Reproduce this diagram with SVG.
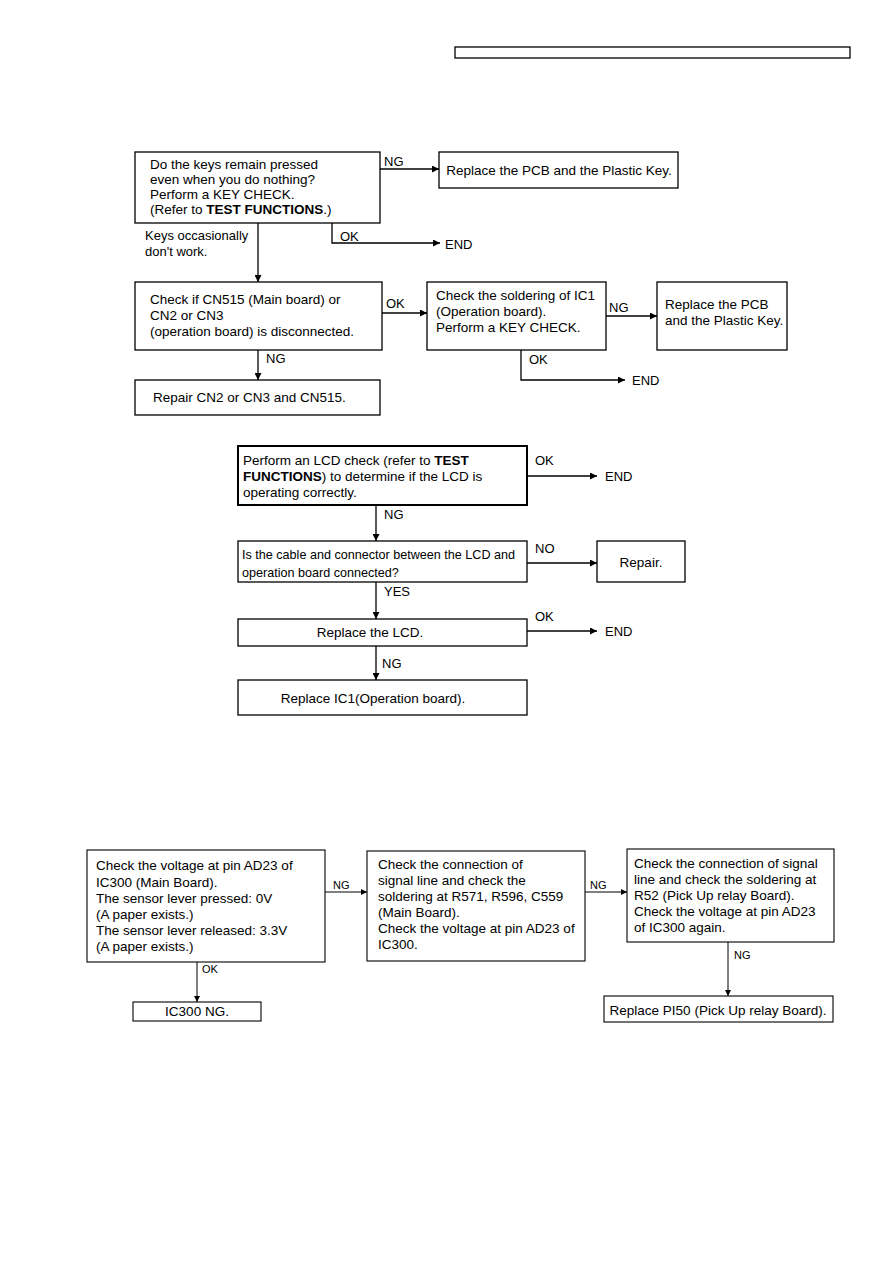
<svg xmlns="http://www.w3.org/2000/svg" width="893" height="1263" viewBox="0 0 893 1263">
<style>
text{font-family:"Liberation Sans",Arial,sans-serif;font-size:13.5px;fill:#000}
.b{font-weight:bold}
.s{font-size:12.6px}
.xs{font-size:11px}
.lbl{font-size:13px}
rect{fill:#fff;stroke:#000;stroke-width:1.3}
.thick rect{stroke-width:2}
.thin rect{stroke-width:1.1}
.c path{fill:none;stroke:#000;stroke-width:1.3}
.c .t{stroke-width:1}
</style>
<defs>
<marker id="ah" viewBox="0 0 10 10" refX="10" refY="5" markerWidth="11" markerHeight="7" markerUnits="userSpaceOnUse" orient="auto"><path d="M0,0 L10,5 L0,10 z" fill="#000"/></marker>
<marker id="ah2" viewBox="0 0 10 10" refX="10" refY="5" markerWidth="8" markerHeight="6" markerUnits="userSpaceOnUse" orient="auto"><path d="M0,0 L10,5 L0,10 z" fill="#000"/></marker>
</defs>
<rect x="455" y="47" width="395" height="11" stroke-width="1.5"/>

<g id="nodeA"><rect x="135" y="152" width="245" height="71"/>
<text x="150" y="169">Do the keys remain pressed</text>
<text x="150" y="184">even when you do nothing?</text>
<text x="150" y="199">Perform a KEY CHECK.</text>
<text x="150" y="214">(Refer to <tspan class="b">TEST FUNCTIONS</tspan>.)</text></g>
<g id="nodeB"><rect x="439" y="152" width="239" height="36"/>
<text x="559" y="175" text-anchor="middle">Replace the PCB and the Plastic Key.</text></g>
<g id="nodeC"><rect x="135" y="282" width="247" height="68"/>
<text x="150" y="304">Check if CN515 (Main board) or</text>
<text x="150" y="320">CN2 or CN3</text>
<text x="150" y="336">(operation board) is disconnected.</text></g>
<g id="nodeD"><rect x="427" y="282" width="179" height="68"/>
<text x="436" y="300">Check the soldering of IC1</text>
<text x="436" y="316">(Operation board).</text>
<text x="436" y="332">Perform a KEY CHECK.</text></g>
<g id="nodeE"><rect x="657" y="282" width="130" height="68"/>
<text x="665" y="309">Replace the PCB</text>
<text x="665" y="325">and the Plastic Key.</text></g>
<g id="nodeF"><rect x="135" y="380" width="245" height="35"/>
<text x="153" y="402">Repair CN2 or CN3 and CN515.</text></g>

<g id="nodeG" class="thick"><rect x="238" y="446" width="289" height="59"/>
<text x="243" y="465">Perform an LCD check (refer to <tspan class="b">TEST</tspan></text>
<text x="243" y="481"><tspan class="b">FUNCTIONS</tspan>) to determine if the LCD is</text>
<text x="243" y="497">operating correctly.</text></g>
<g id="nodeH"><rect x="238" y="541" width="289" height="41"/>
<text class="s" x="242" y="559">Is the cable and connector between the LCD and</text>
<text class="s" x="242" y="577">operation board connected?</text></g>
<g id="nodeI"><rect x="597" y="541" width="88" height="41"/>
<text x="641" y="567" text-anchor="middle">Repair.</text></g>
<g id="nodeJ"><rect x="238" y="619" width="289" height="27"/>
<text x="370" y="637" text-anchor="middle">Replace the LCD.</text></g>
<g id="nodeK"><rect x="238" y="680" width="289" height="35"/>
<text x="373" y="703" text-anchor="middle">Replace IC1(Operation board).</text></g>

<g id="nodeL" class="thin"><rect x="87" y="850" width="238" height="112"/>
<text x="96" y="870">Check the voltage at pin AD23 of</text>
<text x="96" y="887">IC300 (Main Board).</text>
<text x="96" y="903">The sensor lever pressed: 0V</text>
<text x="96" y="919">(A paper exists.)</text>
<text x="96" y="935">The sensor lever released: 3.3V</text>
<text x="96" y="951">(A paper exists.)</text></g>
<g id="nodeM" class="thin"><rect x="367" y="851" width="218" height="110"/>
<text x="378" y="869">Check the connection of</text>
<text x="378" y="885">signal line and check the</text>
<text x="378" y="901">soldering at R571, R596, C559</text>
<text x="378" y="917">(Main Board).</text>
<text x="378" y="933">Check the voltage at pin AD23 of</text>
<text x="378" y="949">IC300.</text></g>
<g id="nodeN" class="thin"><rect x="627" y="849" width="207" height="93"/>
<text x="634" y="868">Check the connection of signal</text>
<text x="634" y="884">line and check the soldering at</text>
<text x="634" y="900">R52 (Pick Up relay Board).</text>
<text x="634" y="916">Check the voltage at pin AD23</text>
<text x="634" y="932">of IC300 again.</text></g>
<g id="nodeO" class="thin"><rect x="604" y="996" width="229" height="26"/>
<text x="718" y="1015" text-anchor="middle">Replace PI50 (Pick Up relay Board).</text></g>
<g id="nodeP" class="thin"><rect x="133" y="1002" width="128" height="19"/>
<text x="197" y="1016" text-anchor="middle">IC300 NG.</text></g>

<g id="connectors" class="c">
<path d="M380,169 H439" marker-end="url(#ah)"/>
<path d="M332,223 V243 H440" marker-end="url(#ah)"/>
<path d="M258,223 V282" marker-end="url(#ah)"/>
<path d="M382,313 H427" marker-end="url(#ah)"/>
<path d="M606,316 H657" marker-end="url(#ah)"/>
<path d="M521,350 V380 H625" marker-end="url(#ah)"/>
<path d="M258,350 V380" marker-end="url(#ah)"/>
<path d="M527,476 H597" marker-end="url(#ah)"/>
<path d="M376,505 V541" marker-end="url(#ah)"/>
<path d="M527,563 H597" marker-end="url(#ah)"/>
<path d="M376,582 V619" marker-end="url(#ah)"/>
<path d="M527,631 H597" marker-end="url(#ah)"/>
<path d="M376,646 V680" marker-end="url(#ah)"/>
<path class="t" d="M325,892 H367" marker-end="url(#ah2)"/>
<path class="t" d="M585,892 H627" marker-end="url(#ah2)"/>
<path class="t" d="M728,942 V996" marker-end="url(#ah2)"/>
<path class="t" d="M197,962 V1002" marker-end="url(#ah2)"/>
</g>
<g id="labels">
<text class="lbl" x="384" y="166">NG</text>
<text class="lbl" x="340" y="241">OK</text>
<text class="lbl" x="445" y="249">END</text>
<text class="lbl" x="145" y="240">Keys occasionally</text>
<text class="lbl" x="145" y="256">don't work.</text>
<text class="lbl" x="386" y="308">OK</text>
<text class="lbl" x="609" y="312">NG</text>
<text class="lbl" x="529" y="364">OK</text>
<text class="lbl" x="632" y="385">END</text>
<text class="lbl" x="266" y="363">NG</text>
<text class="lbl" x="535" y="465">OK</text>
<text class="lbl" x="605" y="481">END</text>
<text class="lbl" x="384" y="519">NG</text>
<text class="lbl" x="535" y="553">NO</text>
<text class="lbl" x="384" y="596">YES</text>
<text class="lbl" x="535" y="621">OK</text>
<text class="lbl" x="605" y="636">END</text>
<text class="lbl" x="382" y="668">NG</text>
<text class="xs" x="333" y="889">NG</text>
<text class="xs" x="590" y="889">NG</text>
<text class="xs" x="734" y="959">NG</text>
<text class="xs" x="202" y="973">OK</text>
</g>
</svg>
